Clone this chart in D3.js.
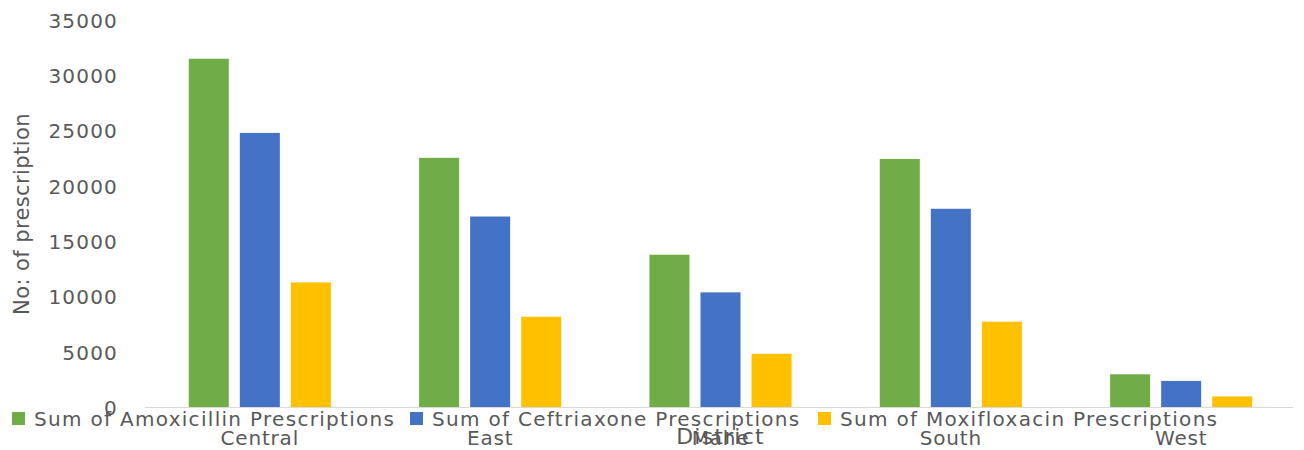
<!DOCTYPE html>
<html>
<head>
<meta charset="utf-8">
<script src="https://cdn.jsdelivr.net/npm/d3@7"></script>
<style>
  body { margin: 0; background: #fff; }
  text { font-family: "DejaVu Sans", sans-serif; fill: #595959; }
</style>
</head>
<body>
<svg id="chart" width="1304" height="450"></svg>
<script>
// districts and series
const districts = ['Central', 'East', 'Mahe', 'South', 'West']
const seriesNames = [
    'Sum of Amoxicillin Prescriptions',
    'Sum of Ceftriaxone Prescriptions',
    'Sum of Moxifloxacin Prescriptions'
]
const amoxicillin = [31500, 22550, 13800, 22450, 3000]
const ceftriaxone = [24800, 17250, 10400, 17950, 2400]
const moxifloxacin = [11300, 8200, 4850, 7750, 1000]
const yTicks = [0, 5000, 10000, 15000, 20000, 25000, 30000, 35000]
const colors = ['#70ad47', '#4472c4', '#ffc000']

const svg = d3.select('#chart')

const x0 = d3.scaleBand()
    .domain(districts)
    .range([145, 1296])
    .paddingInner(0.383)
    .paddingOuter(0.19)

const x1 = d3.scaleBand()
    .domain(seriesNames)
    .range([0, x0.bandwidth()])
    .paddingInner(0.216)

const y = d3.scaleLinear()
    .domain([0, 35000])
    .range([407.5, 20])

// rows for each district
const rows = districts.map((d, i) => ({
    district: d,
    values: [amoxicillin[i], ceftriaxone[i], moxifloxacin[i]]
}))

// y axis labels only (no line, no grid)
const yAxis = d3.axisLeft(y)
    .tickValues(yTicks)
    .tickFormat(d3.format('d'))
    .tickSize(0)
    .tickPadding(0)
svg.append('g')
    .attr('transform', 'translate(118,0)')
    .call(yAxis)
    .call(g => g.select('.domain').remove())
    .selectAll('text')
        .style('font-family', '"DejaVu Sans", sans-serif')
        .style('font-size', '20px')
        .style('letter-spacing', '1.2px')
        .style('fill', '#595959')
        .attr('dy', '0.35em')

// bars
svg.append('g')
    .selectAll('g')
    .data(rows)
    .enter()
    .append('g')
        .attr('transform', d => `translate(${x0(d.district)},0)`)
    .selectAll('rect')
    .data(d => d.values.map((v, k) => ({key: seriesNames[k], value: v, k: k})))
    .enter()
    .append('rect')
        .attr('x', d => x1(d.key))
        .attr('y', d => y(d.value))
        .attr('width', x1.bandwidth())
        .attr('height', d => y(0) - y(d.value))
        .style('fill', d => colors[d.k])

// baseline
svg.append('line')
    .attr('x1', 145).attr('x2', 1293)
    .attr('y1', y(0)).attr('y2', y(0))
    .style('stroke', '#d9d9d9')
    .style('stroke-width', 1)

// category labels
const xAxis = d3.axisBottom(x0).tickSize(0).tickPadding(0)
svg.append('g')
    .attr('transform', 'translate(0,445)')
    .call(xAxis)
    .call(g => g.select('.domain').remove())
    .selectAll('text')
        .attr('dy', 0)
        .attr('y', 0)
        .style('font-family', '"DejaVu Sans", sans-serif')
        .style('font-size', '20px')
        .style('letter-spacing', '0.8px')
        .style('fill', '#595959')

// axis titles
svg.append('text')
    .attr('transform', 'translate(29,214) rotate(-90)')
    .attr('text-anchor', 'middle')
    .style('font-size', '21px')
    .style('letter-spacing', '0.4px')
    .text('No: of prescription')

svg.append('text')
    .attr('x', x0('Mahe') + x0.bandwidth() / 2)
    .attr('y', 444)
    .attr('text-anchor', 'middle')
    .style('font-size', '22px')
    .style('letter-spacing', '1.2px')
    .text('District')

// legend
const legendX = [12, 410, 818]
const legend = svg.append('g')
    .selectAll('g')
    .data(seriesNames)
    .enter()
    .append('g')
        .attr('transform', (d, i) => `translate(${legendX[i]},412)`)
legend.append('rect')
    .attr('width', 13).attr('height', 13)
    .style('fill', (d, i) => colors[i])
legend.append('text')
    .attr('x', 22)
    .attr('y', 14)
    .style('font-size', '20px')
    .style('letter-spacing', '1.3px')
    .text(d => d)
</script>
</body>
</html>
